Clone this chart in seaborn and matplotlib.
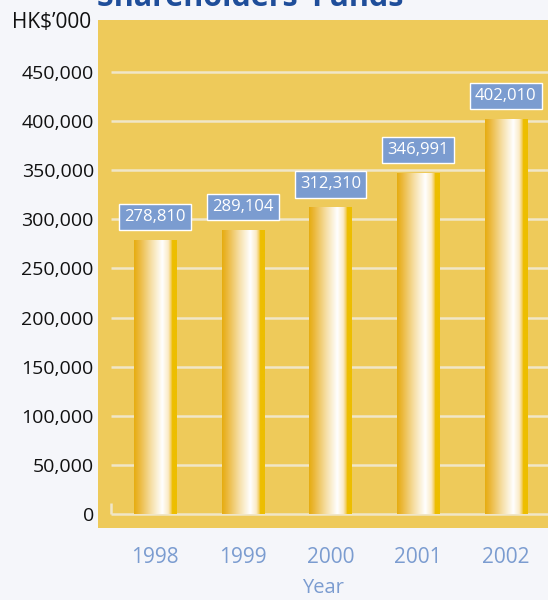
import numpy as np
import pandas as pd
import seaborn as sns
import matplotlib.pyplot as plt
from matplotlib.colors import LinearSegmentedColormap
import matplotlib.ticker as ticker

years = ['1998', '1999', '2000', '2001', '2002']
funds = [278810, 289104, 312310, 346991, 402010]
yticks = [0, 50000, 100000, 150000, 200000, 250000, 300000, 350000, 400000, 450000]

gold = '#EECA5A'
label_blue = '#7B9CD0'
title_blue = '#1F4E9A'
grid_col = '#F0E6C8'

sns.set_style('white')
plt.rcParams['font.family'] = ['Open Sans', 'DejaVu Sans']

df = pd.DataFrame({'year': years, 'funds': funds})

fig = plt.figure(figsize=(5.48, 6.0), dpi=100, facecolor='#F5F6FA')
ax = fig.add_axes([98 / 548, 1 - 528 / 600, 450 / 548, 508 / 600])
ax.set_facecolor(gold)

sns.barplot(data=df, x='year', y='funds', color='#EDBE00', width=0.48,
            linewidth=0, ax=ax, zorder=3)

# cylinder-like shading on each bar
cyl = LinearSegmentedColormap.from_list('cyl', [
    (0.0, '#E6AC10'), (0.12, '#EBB83A'), (0.4, '#F6DFA6'),
    (0.66, '#FFFFFF'), (0.8, '#FBEBC6'), (0.87, '#F2CB55'),
    (0.89, '#EDBE00'), (1.0, '#EDBE00')])
grad = np.linspace(0, 1, 256).reshape(1, -1)
for p in ax.patches:
    x0, y0 = p.get_x(), p.get_y()
    w, h = p.get_width(), p.get_height()
    im = ax.imshow(grad, cmap=cyl, aspect='auto', extent=[x0, x0 + w, y0, y0 + h],
                   zorder=4)
    im.set_clip_path(p)

ax.set_xlim(-0.65, 4.48)
ax.set_ylim(-14300, 503000)

# grid lines start a little inside the panel
ax.hlines(yticks, -0.5, 4.48, colors=grid_col, linewidth=1.8, zorder=1)
ax.vlines(-0.5, 0, 11000, colors=grid_col, linewidth=1.8, zorder=1)

for i, v in enumerate(funds):
    ax.text(i, v + 23500, f'{v:,}', ha='center', va='center', color='white',
            fontsize=12, zorder=5,
            bbox=dict(boxstyle='square,pad=0.32', facecolor=label_blue,
                      edgecolor='white', linewidth=1))

for s in ax.spines.values():
    s.set_visible(False)

ax.set_yticks(yticks)
ax.yaxis.set_major_formatter(ticker.FuncFormatter(lambda y, _: f'{int(y):,}'))
ax.tick_params(axis='y', length=0, pad=3, labelsize=14, labelcolor='#111111')
ax.tick_params(axis='x', length=0, pad=14, labelsize=15, labelcolor=label_blue)
ax.set_xlabel('Year', color=label_blue, fontsize=14.5, labelpad=7)
ax.set_ylabel(None)

fig.text(12 / 548, 1 - 22 / 600, 'HK$\u2019000', fontsize=15, color='#111111',
         ha='left', va='center')
fig.text(250 / 548, 1 - 6 / 600, 'Shareholders\u2019 Funds', fontsize=22,
         fontweight='bold', color=title_blue, ha='center', va='baseline')

plt.savefig('out.png', dpi=100, facecolor=fig.get_facecolor())
